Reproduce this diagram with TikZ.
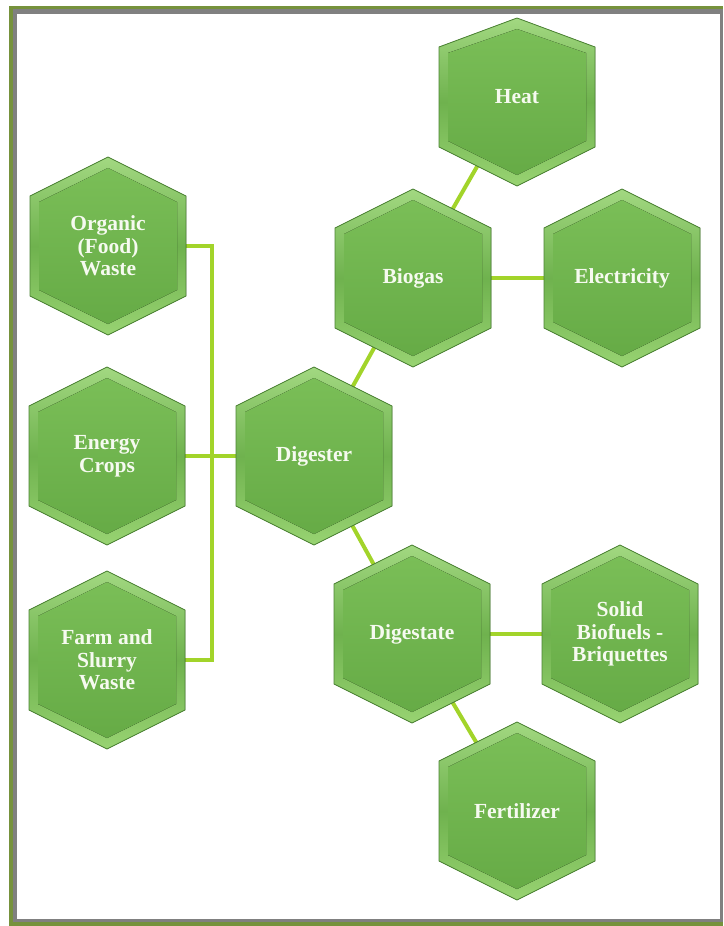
\documentclass[tikz,border=0pt]{standalone}
\usepackage{fontspec}
\setmainfont{Liberation Serif}
\pgfdeclarelayer{framelayer}
\pgfdeclarelayer{linklayer}
\pgfsetlayers{framelayer,linklayer,main}
\definecolor{olivefr}{HTML}{76923C}
\definecolor{grayfr}{HTML}{808080}
\definecolor{linkc}{HTML}{A2D42A}
\definecolor{hexedge}{HTML}{4C8434}
\definecolor{bevtop}{HTML}{A2D881}
\definecolor{bevmid}{HTML}{6FB24E}
\definecolor{bevbot}{HTML}{98D372}
\definecolor{facetop}{HTML}{7ABE57}
\definecolor{facebot}{HTML}{66AB46}
\definecolor{txtc}{HTML}{F6FAF0}
\tikzset{
  bevelfill/.style={top color=bevtop, bottom color=bevbot, middle color=bevmid},
  facefill/.style={top color=facetop, bottom color=facebot},
  hexline/.style={draw=hexedge, line width=0.8pt},
  hextext/.style={text=txtc, font=\fontsize{21.5}{22.5}\selectfont\bfseries, align=center, inner sep=0pt},
  link/.style={draw=linkc, line width=4pt}
}
\newcommand\hexcell[5]{%
  \begin{scope}[shift={(#2,#3)}]
    \fill[bevelfill] (0,-#4) -- (78,-50) -- (78,50) -- (0,89) -- (-78,50) -- (-78,-50) -- cycle;
    \fill[facefill] (0,-#4+11) -- (69,-44) -- (69,44) -- (0,78) -- (-69,44) -- (-69,-44) -- cycle;
    \draw[hexline] (0,-#4) -- (78,-50) -- (78,50) -- (0,89) -- (-78,50) -- (-78,-50) -- cycle;
    \node[hextext] (#1) at (0,0) {#5};
  \end{scope}}
\begin{document}
\begin{tikzpicture}[x=1pt,y=-1pt]
\useasboundingbox (0,0) rectangle (723,926);
\begin{pgfonlayer}{framelayer}
  \fill[white] (0,0) rectangle (723,926);
  \fill[olivefr] (9,6) rectangle (723,926);
  \fill[grayfr] (13,9) rectangle (723,922);
  \fill[white] (17,14) rectangle (720,919);
\end{pgfonlayer}

\hexcell{org}{108}{246}{89}{Organic\\(Food)\\Waste}
\hexcell{crops}{107}{456}{89}{Energy\\Crops}
\hexcell{farm}{107}{660}{89}{Farm and\\Slurry\\Waste}
\hexcell{dig}{314}{456}{89}{Digester}
\hexcell{bio}{413}{278}{89}{Biogas}
\hexcell{heat}{517}{97}{79}{Heat}
\hexcell{elec}{622}{278}{89}{Electricity}
\hexcell{dstate}{412}{634}{89}{Digestate}
\hexcell{solid}{620}{634}{89}{Solid\\Biofuels -\\Briquettes}
\hexcell{fert}{517}{811}{89}{Fertilizer}

\coordinate (bus) at (212,456);
\begin{pgfonlayer}{linklayer}
  \draw[link] (org.center) -| (bus) |- (farm.center);
  \draw[link] (crops.center) -- (dig.center);
  \draw[link] (dig.center) -- (bio.center);
  \draw[link] (bio.center) -- (heat.center);
  \draw[link] (bio.center) -- (elec.center);
  \draw[link] (dig.center) -- (dstate.center);
  \draw[link] (dstate.center) -- (solid.center);
  \draw[link] (dstate.center) -- (fert.center);
\end{pgfonlayer}
\end{tikzpicture}
\end{document}
